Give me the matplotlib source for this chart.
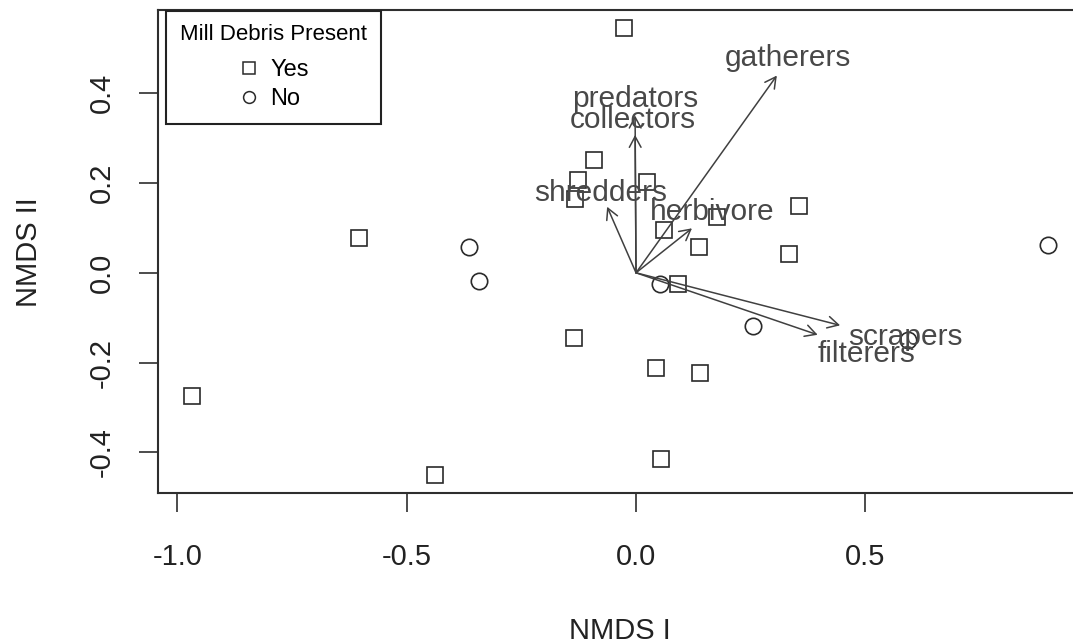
import matplotlib
matplotlib.use("Agg")
import matplotlib.pyplot as plt
from matplotlib.lines import Line2D

plt.rcParams['font.family'] = ['Liberation Sans', 'DejaVu Sans']
plt.rcParams['axes.unicode_minus'] = False

# ---- site scores (NMDS I, NMDS II) ----
yes_x = [-0.026, -0.091, -0.126, -0.134, 0.024, 0.061, 0.176, 0.356, 0.137,
         0.334, 0.091, -0.605, -0.135, -0.967, -0.439, 0.043, 0.139, 0.054]
yes_y = [0.545, 0.250, 0.207, 0.164, 0.201, 0.095, 0.125, 0.149, 0.057,
         0.042, -0.024, 0.077, -0.146, -0.274, -0.451, -0.211, -0.224, -0.415]
no_x = [0.898, 0.052, -0.365, -0.343, 0.256, 0.594]
no_y = [0.062, -0.025, 0.058, -0.018, -0.119, -0.150]

# ---- fitted trait vectors ----
traits = ['gatherers', 'predators', 'collectors', 'shredders',
          'herbivore', 'scrapers', 'filterers']
arrow_x = [0.307, -0.002, -0.002, -0.063, 0.122, 0.445, 0.396]
arrow_y = [0.439, 0.350, 0.307, 0.147, 0.099, -0.117, -0.138]
label_x = [0.331, -0.002, -0.008, -0.077, 0.167, 0.587, 0.502]
label_y = [0.477, 0.387, 0.339, 0.178, 0.136, -0.143, -0.180]

legend_title = 'Mill Debris Present'
legend_labels = ['Yes', 'No']
x_ticks = [-1.0, -0.5, 0.0, 0.5]
y_ticks = [-0.4, -0.2, 0.0, 0.2, 0.4]

point_col = '#2a2a2a'
arrow_col = '#404040'
label_col = '#484848'
axis_col = '#2e2e2e'

fig = plt.figure(figsize=(10.73, 6.43), dpi=100)
ax = fig.add_axes([0.1475, 0.2328, 0.861, 0.7516])

ax.plot(yes_x, yes_y, ls='none', marker='s', ms=11.8, mfc='none',
        mec=point_col, mew=1.2)
ax.plot(no_x, no_y, ls='none', marker='o', ms=11.8, mfc='none',
        mec=point_col, mew=1.2)

# R-like 4% axis expansion from the data range
allx = yes_x + no_x
ally = yes_y + no_y
rx = max(allx) - min(allx)
ry = max(ally) - min(ally)
ax.set_xlim(min(allx) - 0.04 * rx, max(allx) + 0.04 * rx)
ax.set_ylim(min(ally) - 0.04 * ry, max(ally) + 0.04 * ry)

for ax_, ay_ in zip(arrow_x, arrow_y):
    ax.annotate('', xy=(ax_, ay_), xytext=(0, 0), xycoords='data',
                arrowprops=dict(arrowstyle='->,head_length=0.65,head_width=0.35',
                                color=arrow_col, lw=1.1, shrinkA=0, shrinkB=0,
                                mutation_scale=12))
for name, lx, ly in zip(traits, label_x, label_y):
    ax.text(lx, ly, name, ha='center', va='center', fontsize=21.5,
            color=label_col)

ax.set_xticks(x_ticks)
ax.set_xticklabels([f'{v:.1f}' for v in x_ticks])
ax.set_yticks(y_ticks)
ax.set_yticklabels([f'{v:.1f}' for v in y_ticks], rotation=90, va='center')
ax.tick_params(axis='both', direction='out', length=13.5, width=1.2,
               color=axis_col, labelsize=21, labelcolor='#222222')
ax.tick_params(axis='x', pad=22)
ax.tick_params(axis='y', pad=17)
for s in ax.spines.values():
    s.set_color(axis_col)
    s.set_linewidth(1.5)

ax.set_xlabel('NMDS I', fontsize=21, color='#222222')
ax.set_ylabel('NMDS II', fontsize=21, color='#222222')
ax.xaxis.set_label_coords(0.5, -0.255)
ax.yaxis.set_label_coords(-0.125, 0.5)

handles = [Line2D([], [], ls='none', marker='s', ms=8.5, mfc='none',
                  mec=point_col, mew=1.1),
           Line2D([], [], ls='none', marker='o', ms=8.5, mfc='none',
                  mec=point_col, mew=1.1)]
leg = ax.legend(handles, legend_labels, title=legend_title, loc='upper left',
                bbox_to_anchor=(0.008, 0.999), borderaxespad=0,
                fontsize=17, title_fontsize=16, alignment='center',
                fancybox=False, framealpha=1, edgecolor='#222222',
                borderpad=0.59, labelspacing=0.3, handlelength=1.0,
                handletextpad=0.4)
leg.get_frame().set_linewidth(1.5)
# extra gap between the legend title and its entries (in points)
leg._legend_box.sep = 10.0

fig.savefig('out.png', dpi=100)
